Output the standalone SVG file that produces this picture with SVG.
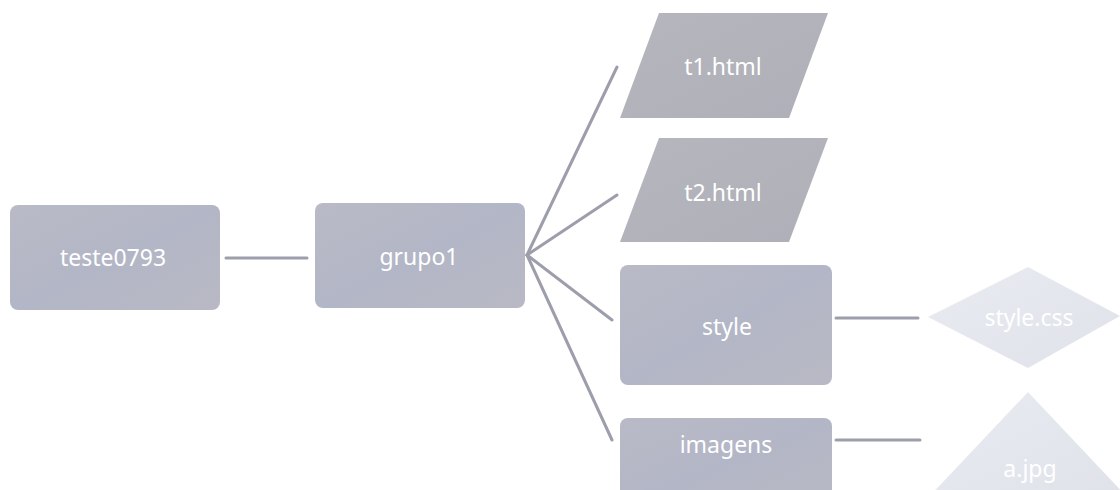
<svg xmlns="http://www.w3.org/2000/svg" width="1120" height="490" viewBox="0 0 1120 490">
<defs>
<linearGradient id="boxg" x1="0" y1="0" x2="1" y2="1">
<stop offset="0" stop-color="#b9bac6"/>
<stop offset="0.5" stop-color="#b3b6c6"/>
<stop offset="1" stop-color="#b8b9c4"/>
</linearGradient>
<linearGradient id="parag" x1="0" y1="0" x2="1" y2="1">
<stop offset="0" stop-color="#b6b6bd"/>
<stop offset="1" stop-color="#aeafb8"/>
</linearGradient>
<linearGradient id="lightg" x1="0" y1="0" x2="1" y2="1">
<stop offset="0" stop-color="#e9ebf1"/>
<stop offset="1" stop-color="#e0e2ea"/>
</linearGradient>
</defs>
<style>
.box{fill:url(#boxg);}
.para{fill:url(#parag);}
.light{fill:url(#lightg);}
.lbl{font-family:"Noto Sans","Open Sans",sans-serif;font-size:23px;fill:#ffffff;text-anchor:middle;dominant-baseline:central;}
.conn{stroke:#9d9eac;stroke-width:3;fill:none;stroke-linecap:round;}
</style>
<g id="connectors">
<line class="conn" x1="226" y1="258" x2="307" y2="258"/>
<line class="conn" x1="527" y1="255" x2="617" y2="67"/>
<line class="conn" x1="527" y1="255" x2="617" y2="195"/>
<line class="conn" x1="527" y1="255" x2="612" y2="320"/>
<line class="conn" x1="527" y1="255" x2="612" y2="440"/>
<line class="conn" x1="836" y1="318" x2="918" y2="318"/>
<line class="conn" x1="836" y1="440" x2="920" y2="440"/>
</g>
<g id="teste0793">
<rect class="box" x="10" y="205" width="210" height="105" rx="8"/>
<text class="lbl" x="113" y="257">teste0793</text>
</g>
<g id="grupo1">
<rect class="box" x="315" y="203" width="210" height="105" rx="8"/>
<text class="lbl" x="419" y="256">grupo1</text>
</g>
<g id="t1html">
<polygon class="para" points="659,13 828,13 789,118 620,118"/>
<text class="lbl" x="723" y="66">t1.html</text>
</g>
<g id="t2html">
<polygon class="para" points="659,138 828,138 789,242 620,242"/>
<text class="lbl" x="723" y="192">t2.html</text>
</g>
<g id="style">
<rect class="box" x="620" y="265" width="212" height="120" rx="8"/>
<text class="lbl" x="727" y="326">style</text>
</g>
<g id="imagens">
<rect class="box" x="620" y="418" width="212" height="90" rx="8"/>
<text class="lbl" x="726" y="444">imagens</text>
</g>
<g id="stylecss">
<polygon class="light" points="928,317 1028,267 1120,316 1028,368"/>
<text class="lbl" x="1029" y="317">style.css</text>
</g>
<g id="ajpg">
<polygon class="light" points="1028,392 1130,500 926,500"/>
<text class="lbl" x="1030" y="468">a.jpg</text>
</g>
</svg>
